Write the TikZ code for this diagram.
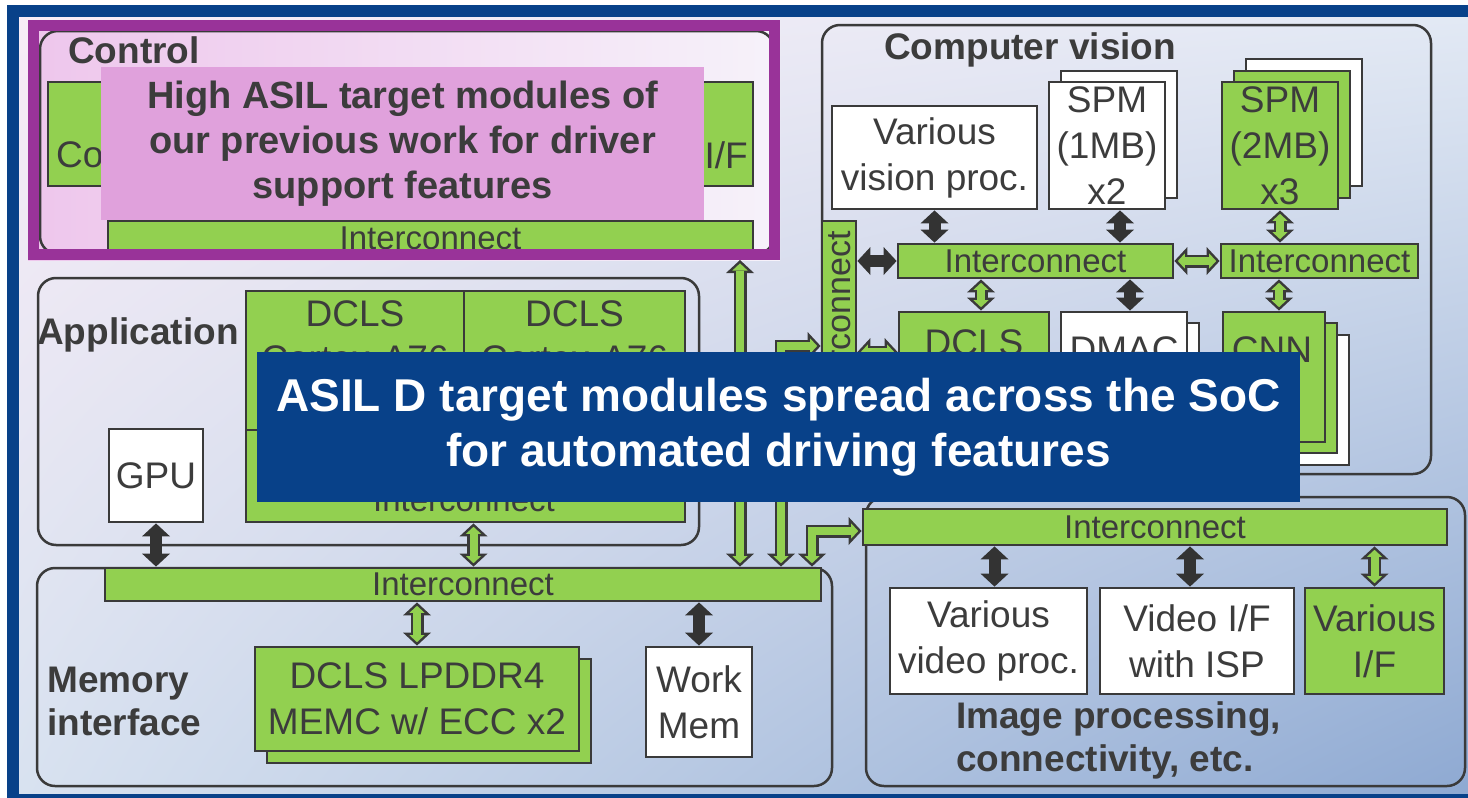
\documentclass[tikz,border=0pt]{standalone}
\usepackage{fontspec}
\setmainfont{Liberation Sans}
\usetikzlibrary{arrows.meta,positioning,shadings}

\definecolor{socblue}{RGB}{8,65,137}
\definecolor{asilpurple}{RGB}{153,51,153}
\definecolor{asilpink}{RGB}{224,161,220}
\definecolor{blockgreen}{RGB}{146,208,80}
\definecolor{linegrey}{RGB}{58,58,58}
\definecolor{arrgrey}{RGB}{51,51,51}
\definecolor{textgrey}{RGB}{60,60,60}
\definecolor{bgtl}{RGB}{248,236,246}
\definecolor{bgtr}{RGB}{226,233,244}
\definecolor{bgbl}{RGB}{216,226,240}
\definecolor{bgbr}{RGB}{142,169,210}
\definecolor{ctlpink}{RGB}{238,198,236}
\definecolor{ctlwhite}{RGB}{246,242,250}

\tikzset{
  grpbox/.style={draw=linegrey, line width=2.5pt, rounded corners=18pt, inner sep=0pt},
  block/.style={draw=linegrey, line width=2.8pt, inner sep=0pt, align=center, text=textgrey, font=\fontsize{37}{46}\selectfont},
  gblock/.style={block, fill=blockgreen},
  wblock/.style={block, fill=white},
  icbar/.style={gblock, font=\fontsize{33}{40}\selectfont},
  ictext/.style={text=textgrey, inner sep=0pt, font=\fontsize{33}{40}\selectfont},
  boxtext/.style={text=textgrey, inner sep=0pt, align=center, font=\fontsize{37}{45}\selectfont},
  heading/.style={text=textgrey, inner sep=0pt, align=left, font=\fontsize{37}{43}\selectfont\bfseries},
  darr/.style={draw=arrgrey, line width=12pt, {Triangle[length=13pt,width=28pt,line width=0pt]}-{Triangle[length=13pt,width=28pt,line width=0pt]}},
  garr/.style={draw=linegrey, line width=13pt, {Triangle[length=13pt,width=28pt,line width=0pt]}-{Triangle[length=13pt,width=28pt,line width=0pt]},
    postaction={draw=blockgreen, line width=8pt, {Triangle[length=7.1pt,width=15.3pt,line width=0pt]}-{Triangle[length=7.1pt,width=15.3pt,line width=0pt]}, shorten <=3.4pt, shorten >=3.4pt}},
}

\begin{document}
\begin{tikzpicture}[x=1pt, y=-1pt]
\useasboundingbox (0,0) rectangle (1468,798);

% slide frame and background
\fill[socblue] (7,5) rectangle (1468,798);
\shade[upper left=bgtl, upper right=bgtr, lower left=bgbl, lower right=bgbr] (19,17) rectangle (1468,793);

% control
\shade[left color=ctlpink, right color=ctlwhite] (28,20) rectangle (780,260);
\node[grpbox, minimum width=734pt, minimum height=223pt] (ctlgrp) at (407,142.5) {};
\node[heading, anchor=west] (ctlhead) at (68,50) {Control};
\node[gblock, minimum width=252pt, minimum height=104pt] (ctla) at (174,134) {};
\node[gblock, minimum width=153pt, minimum height=104pt] (ctlb) at (676.5,134) {};
\node[boxtext, anchor=west] (ctlatxt) at (56,155) {Co};
\node[boxtext, anchor=east] (ctlbtxt) at (748,155) {I/F};
\node[fill=asilpink, text=textgrey, inner sep=0pt, align=center, minimum width=603pt, minimum height=153pt,
  font=\fontsize{38}{45}\selectfont\bfseries] (prevwork) at (402.5,143.5)
  {High ASIL target modules of\\our previous work for driver\\support features};
\node[icbar, minimum width=645pt, minimum height=34pt] (ctlic) at (430.5,238) {Interconnect};
\node[draw=asilpurple, line width=11pt, inner sep=0pt, minimum width=741pt, minimum height=229pt] (ctlframe) at (404,140) {};

% application
\node[grpbox, minimum width=661pt, minimum height=267pt] (appgrp) at (368.5,411.5) {};
\node[heading, anchor=west] (apphead) at (37,335) {Application};
\node[gblock, minimum width=218pt, minimum height=139pt] (dclsa) at (355,360.5) {};
\node[gblock, minimum width=221pt, minimum height=139pt] (dclsb) at (574.5,360.5) {};
\node[boxtext] (dclsatxt) at (355,336) {DCLS\\Cortex-A76};
\node[boxtext] (dclsbtxt) at (574.5,336) {DCLS\\Cortex-A76};
\node[gblock, minimum width=439pt, minimum height=92pt] (appic) at (465.5,476) {};
\node[ictext] (appictxt) at (464,500) {Interconnect};
\node[wblock, minimum width=94pt, minimum height=93pt] (gpu) at (156,475.5) {GPU};

% memory interface
\node[grpbox, minimum width=795pt, minimum height=218pt] (memgrp) at (434.5,677) {};
\node[heading, anchor=west] (memhead) at (47,701) {Memory\\interface};
\node[icbar, minimum width=716pt, minimum height=33pt] (memic) at (463,584.5) {Interconnect};
\node[gblock, minimum width=324pt, minimum height=104pt] (lpddrb) at (429,711) {};
\node[gblock, minimum width=324pt, minimum height=104pt] (lpddr) at (417,699) {DCLS LPDDR4\\MEMC w/ ECC x2};
\node[wblock, minimum width=106pt, minimum height=110pt] (workmem) at (699,702) {Work\\Mem};

% computer vision
\node[grpbox, minimum width=609pt, minimum height=449pt] (cvgrp) at (1126.5,249.5) {};
\node[heading, anchor=west] (cvhead) at (884,50) {Computer vision};
\node[wblock, minimum width=205pt, minimum height=103pt] (vision) at (934.5,157.5) {Various\\vision proc.};
\node[wblock, minimum width=116pt, minimum height=127pt] (spm1b) at (1119,134.5) {};
\node[wblock, minimum width=116pt, minimum height=127pt] (spm1) at (1107,145.5) {SPM\\(1MB)\\x2};
\node[wblock, minimum width=116pt, minimum height=127pt] (spm2c) at (1304,122.5) {};
\node[gblock, minimum width=116pt, minimum height=127pt] (spm2b) at (1292,134.5) {};
\node[gblock, minimum width=116pt, minimum height=127pt] (spm2) at (1280,145.5) {SPM\\(2MB)\\x3};
\node[icbar, minimum width=275pt, minimum height=34pt] (cvic1) at (1035.5,261) {Interconnect};
\node[icbar, minimum width=197pt, minimum height=34pt] (cvic2) at (1319.5,261) {Interconnect};
\node[gblock, minimum width=34pt, minimum height=219pt] (vic) at (839,330.5) {};
\node[ictext, rotate=90, font=\fontsize{34}{40}\selectfont] (victxt) at (839,325) {Interconnect};
\node[gblock, minimum width=150pt, minimum height=138pt] (dclscv) at (974,381) {};
\node[boxtext] (dclscvtxt) at (974,343) {DCLS};
\node[wblock, minimum width=126pt, minimum height=138pt] (dmacb) at (1136,392) {};
\node[wblock, minimum width=126pt, minimum height=138pt] (dmac) at (1124,381) {};
\node[boxtext] (dmactxt) at (1124,350) {DMAC};
\node[wblock, minimum width=102pt, minimum height=130pt] (cnnc) at (1298,400) {};
\node[gblock, minimum width=102pt, minimum height=130pt] (cnnb) at (1286,388) {};
\node[gblock, minimum width=102pt, minimum height=130pt] (cnn) at (1274,377) {};
\node[boxtext] (cnntxt) at (1272,350) {CNN};

% image processing
\node[grpbox, minimum width=599pt, minimum height=289pt] (ipgrp) at (1165.5,641.5) {};
\node[icbar, minimum width=584pt, minimum height=36pt] (ipic) at (1155,527) {Interconnect};
\node[wblock, minimum width=197pt, minimum height=106pt] (vvp) at (988.5,641) {Various\\video proc.};
\node[wblock, minimum width=194pt, minimum height=106pt] (visp) at (1197,641) {Video I/F\\with ISP};
\node[gblock, minimum width=139pt, minimum height=106pt] (vif) at (1374.5,641) {Various\\I/F};
\node[heading, anchor=west] (iphead) at (956,740) {Image processing,\\connectivity, etc.};

% connections
\coordinate (xc) at (740,0);
\coordinate (k1) at (781,346);
\coordinate (k2) at (812,531);
\coordinate (k3) at (0,352);
\coordinate (a1) at ([xshift=8pt]appic.south);
\coordinate (a2) at ([xshift=13pt]spm1.south);
\coordinate (a3) at ([xshift=7pt]dclscv.north);
\coordinate (a4) at ([xshift=6pt]dmac.north);
\coordinate (a5) at ([xshift=5pt]cnn.north);
\coordinate (a6) at ([xshift=6pt]vvp.north);
\coordinate (a7) at ([xshift=-7pt]visp.north);

\draw[garr] (ctlframe.south -| xc) -- (memic.north -| xc);
\draw[darr] (gpu.south) -- (gpu.south |- memic.north);
\draw[garr] (a1) -- (a1 |- memic.north);
\draw[garr] (lpddr.north |- memic.south) -- (lpddr.north);
\draw[darr] (workmem.north |- memic.south) -- (workmem.north);
\draw[garr] (vic.west |- k1) -| (k1 |- memic.north);
\draw[garr] (ipic.west |- k2) -| (k2 |- memic.north);

\draw[darr] (vic.east |- cvic1.west) -- (cvic1.west);
\draw[garr] (cvic1.east) -- (cvic2.west);
\draw[garr] (vic.east |- k3) -- (dclscv.west |- k3);
\draw[darr] (vision.south) -- (vision.south |- cvic1.north);
\draw[darr] (a2) -- (a2 |- cvic1.north);
\draw[garr] (spm2.south) -- (spm2.south |- cvic2.north);
\draw[garr] (a3 |- cvic1.south) -- (a3);
\draw[darr] (a4 |- cvic1.south) -- (a4);
\draw[garr] (a5 |- cvic2.south) -- (a5);

\draw[darr] (a6 |- ipic.south) -- (a6);
\draw[darr] (a7 |- ipic.south) -- (a7);
\draw[garr] (vif.north |- ipic.south) -- (vif.north);

% asil d banner
\node[fill=socblue, text=white, inner sep=0pt, align=center, minimum width=1043pt, minimum height=150pt,
  font=\fontsize{46}{55}\selectfont\bfseries] (asild) at (778.5,427)
  {ASIL D target modules spread across the SoC\\for automated driving features};
\end{tikzpicture}
\end{document}
